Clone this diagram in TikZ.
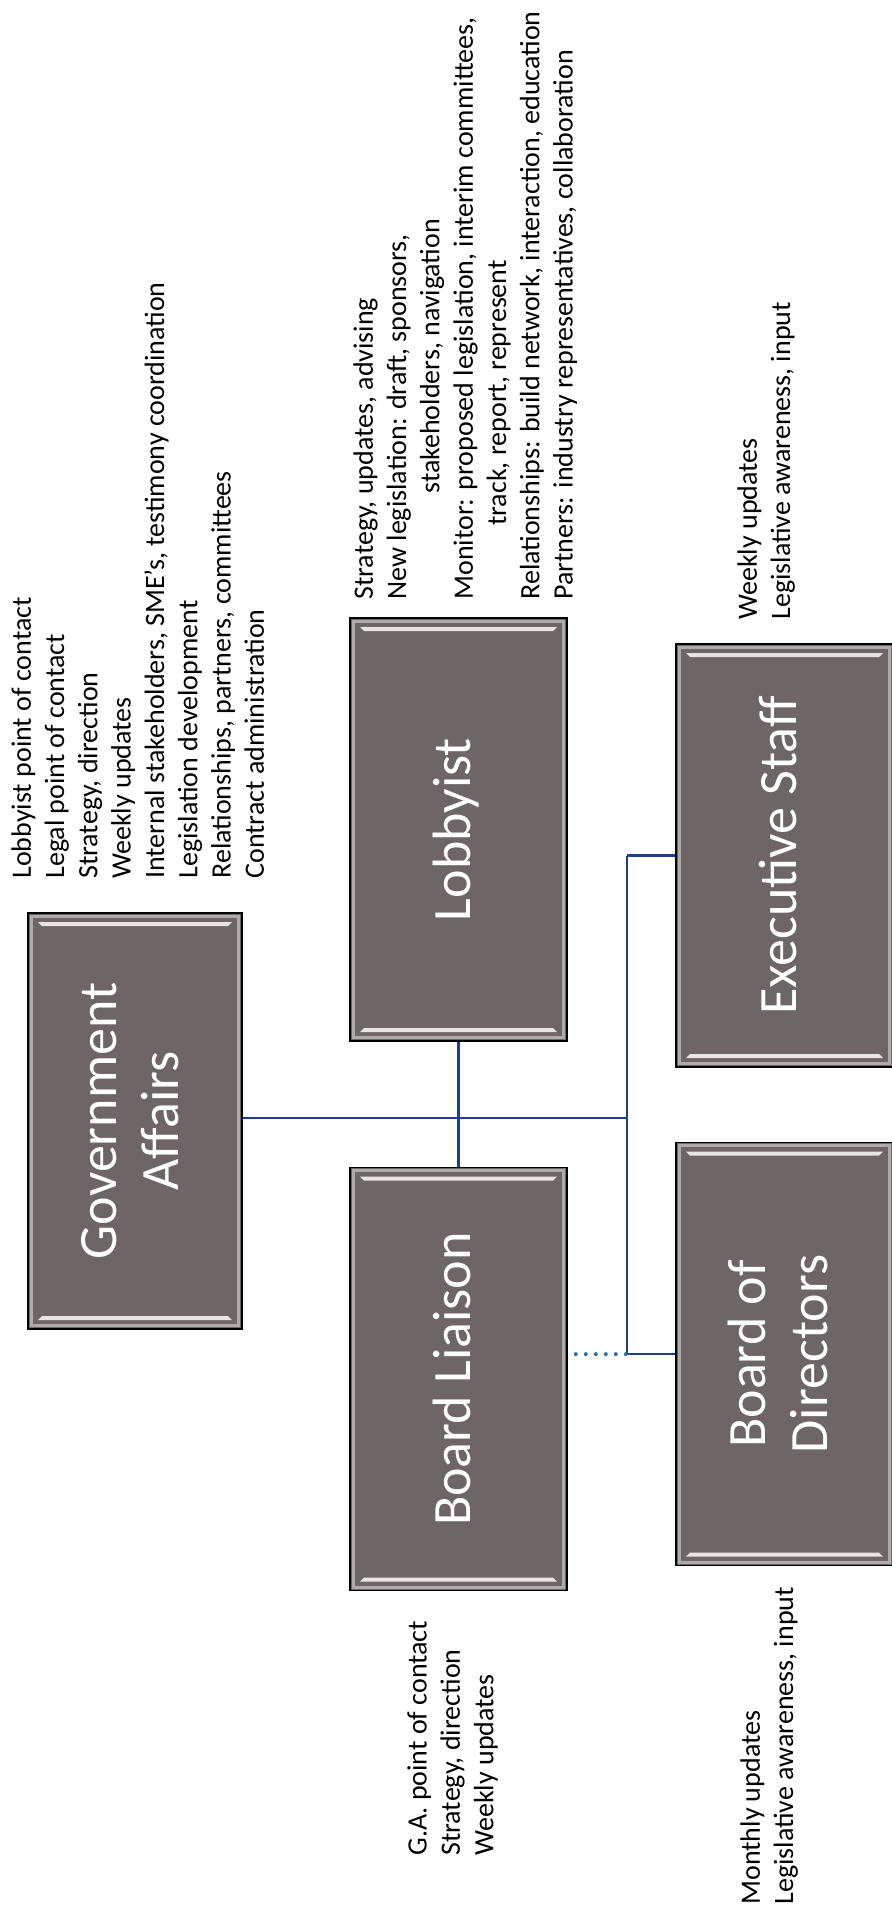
\documentclass[tikz,border=0pt]{standalone}
\usepackage{fontspec}
\setmainfont{Carlito}
\usepackage{xcolor}
\usepackage{tikz}
\usetikzlibrary{positioning}
\definecolor{BoxGray}{HTML}{6E6566}
\definecolor{BevelLight}{HTML}{E8E4E4}
\definecolor{LinkBlue}{HTML}{1F3D8C}
\definecolor{DotBlue}{HTML}{2F6DB5}

\newcommand{\boxtext}[1]{\rotatebox{90}{\begin{tabular}{@{}c@{}}#1\end{tabular}}}

\begin{document}
\begin{tikzpicture}[x=0.5pt, y=-0.5pt,
            orgbox/.style={draw=black, line width=0.8pt, fill=BoxGray, text=white, minimum width=108.5pt, minimum height=211.5pt, inner sep=0pt, font=\fontsize{27}{31}\selectfont,
                path picture={
                    \draw[BoxGray!55!white, line width=1.4pt] ([shift={(1.6pt,-1.6pt)}]path picture bounding box.north west) rectangle ([shift={(-1.6pt,1.6pt)}]path picture bounding box.south east);
                    \fill[BevelLight] ([shift={(5pt,-4.5pt)}]path picture bounding box.north west) -- ([shift={(-5pt,-4.5pt)}]path picture bounding box.north east) -- ([shift={(-7pt,-6.5pt)}]path picture bounding box.north east) -- ([shift={(7pt,-6.5pt)}]path picture bounding box.north west) -- cycle;
                    \fill[BevelLight] ([shift={(5pt,4.5pt)}]path picture bounding box.south west) -- ([shift={(-5pt,4.5pt)}]path picture bounding box.south east) -- ([shift={(-7pt,6.5pt)}]path picture bounding box.south east) -- ([shift={(7pt,6.5pt)}]path picture bounding box.south west) -- cycle;
                }},
            notes/.style={rotate=90, anchor=north west, inner sep=0pt, align=left, font=\fontsize{14}{16.65}\selectfont},
            link/.style={draw=LinkBlue, line width=1.2pt},
            dotlink/.style={draw=DotBlue, line width=2pt, line cap=round, dash pattern=on 0pt off 5pt}
        ]
            \useasboundingbox (0,0) rectangle (892,1915);

            % boxes
            \node[orgbox, minimum width=107pt, minimum height=208pt] (ga) at (135,1121) {\boxtext{Government\\Affairs}};
            \node[orgbox] (lob) at (458.5,829.5) {\boxtext{Lobbyist}};
            \node[orgbox, below=62.5pt of lob] (bl) {\boxtext{Board Liaison}};
            \node[orgbox] (exec) at (784.5,855.5) {\boxtext{Executive Staff}};
            \node[orgbox, below=37pt of exec] (bod) {\boxtext{Board of\\Directors}};

            % notes
            \node[notes] (gaNotes) at (11,879) {Lobbyist point of contact\\Legal point of contact\\Strategy, direction\\Weekly updates\\Internal stakeholders, SME’s, testimony coordination\\Legislation development\\Relationships, partners, committees\\Contract administration};
            \node[notes] (lobNotes) at (353,600) {Strategy, updates, advising\\New legislation: draft, sponsors,\\\hspace*{53pt}stakeholders, navigation\\Monitor: proposed legislation, interim committees,\\\hspace*{37pt}track, report, represent\\Relationships: build network, interaction, education\\Partners: industry representatives, collaboration};
            \node[notes] (execNotes) at (737,620) {Weekly updates\\Legislative awareness, input};
            \node[notes] (blNotes) at (407,1856) {G.A. point of contact\\Strategy, direction\\Weekly updates};
            \node[notes] (bodNotes) at (740,1905) {Monthly updates\\Legislative awareness, input};

            % connectors
            \coordinate (spine) at (627,1118);
            \draw[link] (ga.east |- spine) -- (spine);
            \draw[link] (spine |- exec.west) -- (spine |- bod.west);
            \draw[link] (spine |- exec.west) -- (exec.west);
            \draw[link] (spine |- bod.west) -- (bod.west);
            \draw[link] (lob.south) -- (bl.north);
            \draw[dotlink] ([xshift=4pt]bl.east |- bod.west) -- (spine |- bod.west);

        \end{tikzpicture}
\end{document}
